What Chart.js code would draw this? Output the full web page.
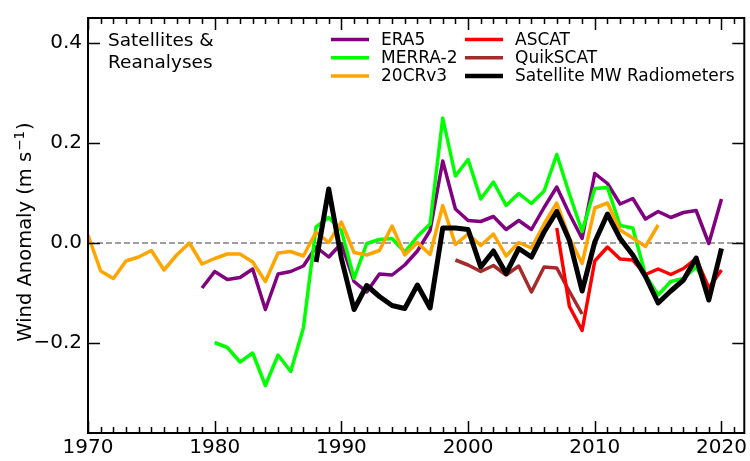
<!DOCTYPE html>
<html>
<head>
<meta charset="utf-8">
<script src="https://cdn.jsdelivr.net/npm/chart.js@4/dist/chart.umd.min.js"></script>
<style>
  html, body { margin: 0; padding: 0; background: #fff; }
  #wrap { width: 750px; height: 461px; position: relative; }
</style>
</head>
<body>
<div id="wrap"><canvas id="chart"></canvas></div>
<script>
// wind anomaly (m s-1), yearly
const FONT = 'DejaVu Sans';

// 20CRv3 1970–2015
const cr20Start = 1970;
const cr20 = [0.016, -0.056, -0.071, -0.036, -0.028, -0.015, -0.054, -0.024, 0.000, -0.042,
  -0.031, -0.022, -0.022, -0.038, -0.077, -0.020, -0.017, -0.026, 0.022, 0.001,
  0.042, -0.019, -0.024, -0.015, 0.034, -0.024, 0.001, -0.023, 0.075, -0.003,
  0.018, -0.005, 0.018, -0.026, 0.001, -0.010, 0.038, 0.080, 0.010, -0.041,
  0.070, 0.080, 0.026, 0.010, -0.007, 0.036];

// ERA5 1979–2020
const era5Start = 1979;
const era5 = [-0.090, -0.057, -0.073, -0.069, -0.052, -0.133, -0.062, -0.057, -0.046, -0.008,
  -0.028, -0.001, -0.077, -0.098, -0.062, -0.064, -0.044, -0.016, 0.025, 0.164,
  0.068, 0.045, 0.043, 0.053, 0.027, 0.045, 0.027, 0.071, 0.112, 0.058,
  0.009, 0.139, 0.119, 0.078, 0.089, 0.048, 0.063, 0.051, 0.061, 0.065,
  -0.001, 0.088];

// MERRA-2 1980–2019
const merraStart = 1980;
const merra = [-0.199, -0.209, -0.238, -0.220, -0.285, -0.224, -0.257, -0.170, 0.032, 0.051,
  0.025, -0.071, -0.001, 0.007, 0.009, -0.018, 0.013, 0.038, 0.250, 0.134,
  0.167, 0.088, 0.122, 0.075, 0.099, 0.079, 0.104, 0.177, 0.098, 0.023,
  0.109, 0.111, 0.035, 0.030, -0.064, -0.104, -0.077, -0.071, -0.048, -0.090];

// ASCAT 2007–2020
const ascatStart = 2007;
const ascat = [0.030, -0.127, -0.175, -0.036, -0.008, -0.032, -0.034, -0.063, -0.052, -0.063,
  -0.051, -0.031, -0.090, -0.054];

// QuikSCAT 1999–2009
const qscatStart = 1999;
const qscat = [-0.034, -0.044, -0.057, -0.045, -0.064, -0.046, -0.098, -0.048, -0.050, -0.097, -0.142];

// Satellite MW radiometers 1988–2020
const mwStart = 1988;
const mw = [-0.038, 0.108, -0.031, -0.133, -0.085, -0.107, -0.125, -0.131, -0.084, -0.130,
  0.030, 0.030, 0.027, -0.048, -0.016, -0.061, -0.011, -0.028, 0.022, 0.063,
  0.005, -0.096, 0.002, 0.058, 0.009, -0.024, -0.067, -0.120, -0.096, -0.074,
  -0.030, -0.114, -0.011];

const xMin = 1970, xMax = 2021.8;
const yMin = -0.38, yMax = 0.45;
const yTickStep = 0.2;
const xMajorStep = 10;

const pts = (start, vals) => vals.map((v, i) => ({ x: start + i, y: v }));

const series = [
  { label: 'Satellite MW Radiometers', data: pts(mwStart, mw), color: '#000000', width: 5 },
  { label: 'ASCAT', data: pts(ascatStart, ascat), color: '#ff0000', width: 3.5 },
  { label: 'QuikSCAT', data: pts(qscatStart, qscat), color: '#a52a2a', width: 3.5 },
  { label: '20CRv3', data: pts(cr20Start, cr20), color: '#ffa500', width: 3.5 },
  { label: 'MERRA-2', data: pts(merraStart, merra), color: '#00ff00', width: 3.5 },
  { label: 'ERA5', data: pts(era5Start, era5), color: '#800080', width: 3.5 },
];

const legendCols = [
  ['ERA5', 'MERRA-2', '20CRv3'],
  ['ASCAT', 'QuikSCAT', 'Satellite MW Radiometers'],
];

const datasets = series.map((s, i) => ({
  label: s.label, data: s.data, borderColor: s.color, backgroundColor: s.color,
  borderWidth: s.width, pointRadius: 0, tension: 0, order: i,
  borderJoinStyle: 'round', borderCapStyle: 'butt',
}));
// gray dashed zero line, behind everything
datasets.push({
  label: 'zero', data: [{ x: xMin, y: 0 }, { x: xMax, y: 0 }],
  borderColor: '#808080', borderWidth: 1.5, borderDash: [6, 3], pointRadius: 0, order: 99,
});

const fmtY = v => {
  if (Math.abs(v) < 1e-9) return '0.0';
  const s = Math.abs(v).toFixed(1);
  return v < 0 ? '\u2212' + s : s;
};

// y title with a real superscript: "Wind Anomaly (m s⁻¹)"
function drawYTitle(ctx, cx, cy) {
  const big = `19.5px "${FONT}"`, small = `13.5px "${FONT}"`;
  const parts = [['Wind Anomaly (m s', big, 0], ['\u22121', small, -7], [')', big, 0]];
  let total = 0;
  parts.forEach(p => { ctx.font = p[1]; p.push(ctx.measureText(p[0]).width); total += p[3] + (p[1] === small ? 2 : 0); });
  ctx.save();
  ctx.translate(cx, cy);
  ctx.rotate(-Math.PI / 2);
  ctx.fillStyle = '#000';
  ctx.textBaseline = 'alphabetic';
  ctx.textAlign = 'left';
  let x = -total / 2;
  parts.forEach(p => {
    ctx.font = p[1];
    if (p[1] === small) x += 1;
    ctx.fillText(p[0], x, 7 + p[2]);
    x += p[3] + (p[1] === small ? 1 : 0);
  });
  ctx.restore();
}

// frame + inward ticks (all four sides), legend, label text
const framePlugin = {
  id: 'frame',
  afterDatasetsDraw(chart) {
    const { ctx, chartArea: a, scales: { x, y } } = chart;
    ctx.save();
    ctx.strokeStyle = '#000';
    ctx.lineWidth = 1.5;
    ctx.beginPath();
    for (let yr = Math.ceil(xMin); yr <= xMax; yr++) {
      const px = Math.round(x.getPixelForValue(yr)) + 0.5;
      const len = yr % xMajorStep === 0 ? 12 : 6;
      ctx.moveTo(px, a.bottom); ctx.lineTo(px, a.bottom - len);
      ctx.moveTo(px, a.top); ctx.lineTo(px, a.top + len);
    }
    y.ticks.forEach(t => {
      const py = Math.round(y.getPixelForValue(t.value)) + 0.5;
      ctx.moveTo(a.left, py); ctx.lineTo(a.left + 12, py);
      ctx.moveTo(a.right, py); ctx.lineTo(a.right - 12, py);
    });
    ctx.stroke();
    ctx.lineWidth = 2;
    ctx.strokeRect(a.left, a.top, a.right - a.left, a.bottom - a.top);

    drawYTitle(ctx, 24, 232);

    // annotation
    ctx.fillStyle = '#000';
    ctx.font = `18.5px "${FONT}"`;
    ctx.textBaseline = 'alphabetic';
    ctx.textAlign = 'left';
    ctx.fillText('Satellites &', a.left + 20, 46);
    ctx.fillText('Reanalyses', a.left + 20, 68);

    // legend
    ctx.font = `17px "${FONT}"`;
    ctx.textBaseline = 'middle';
    const colX = [331, 465];
    legendCols.forEach((col, c) => {
      col.forEach((name, r) => {
        const s = series.find(d => d.label === name);
        const ly = 39.5 + r * 18.2;
        ctx.strokeStyle = s.color;
        ctx.lineWidth = s.width === 5 ? 4.5 : 3.5;
        ctx.beginPath();
        ctx.moveTo(colX[c], ly); ctx.lineTo(colX[c] + 38, ly);
        ctx.stroke();
        ctx.fillStyle = '#000';
        ctx.fillText(name, colX[c] + 50, ly + 1);
      });
    });
    ctx.restore();
  },
};

new Chart(document.getElementById('chart'), {
  type: 'line',
  data: { datasets },
  plugins: [framePlugin],
  options: {
    responsive: true,
    maintainAspectRatio: false,
    animation: false,
    devicePixelRatio: 1,
    layout: { padding: { top: 13, right: 2, left: 0, bottom: 0 } },
    plugins: { legend: { display: false }, tooltip: { enabled: false } },
    scales: {
      x: {
        type: 'linear', min: xMin, max: xMax,
        grid: { display: false, drawTicks: false }, border: { display: false },
        ticks: {
          stepSize: xMajorStep, includeBounds: false, autoSkip: false, maxRotation: 0,
          color: '#000', font: { family: FONT, size: 20 }, padding: 3,
          callback: v => String(v),
        },
        afterFit: s => { s.height = 28; },
      },
      y: {
        min: yMin, max: yMax,
        grid: { display: false, drawTicks: false }, border: { display: false },
        ticks: {
          stepSize: yTickStep, includeBounds: false,
          color: '#000', font: { family: FONT, size: 20 }, padding: 6,
          callback: v => fmtY(v),
        },
        afterFit: s => { s.width = 88; },
      },
    },
  },
});
</script>
</body>
</html>
